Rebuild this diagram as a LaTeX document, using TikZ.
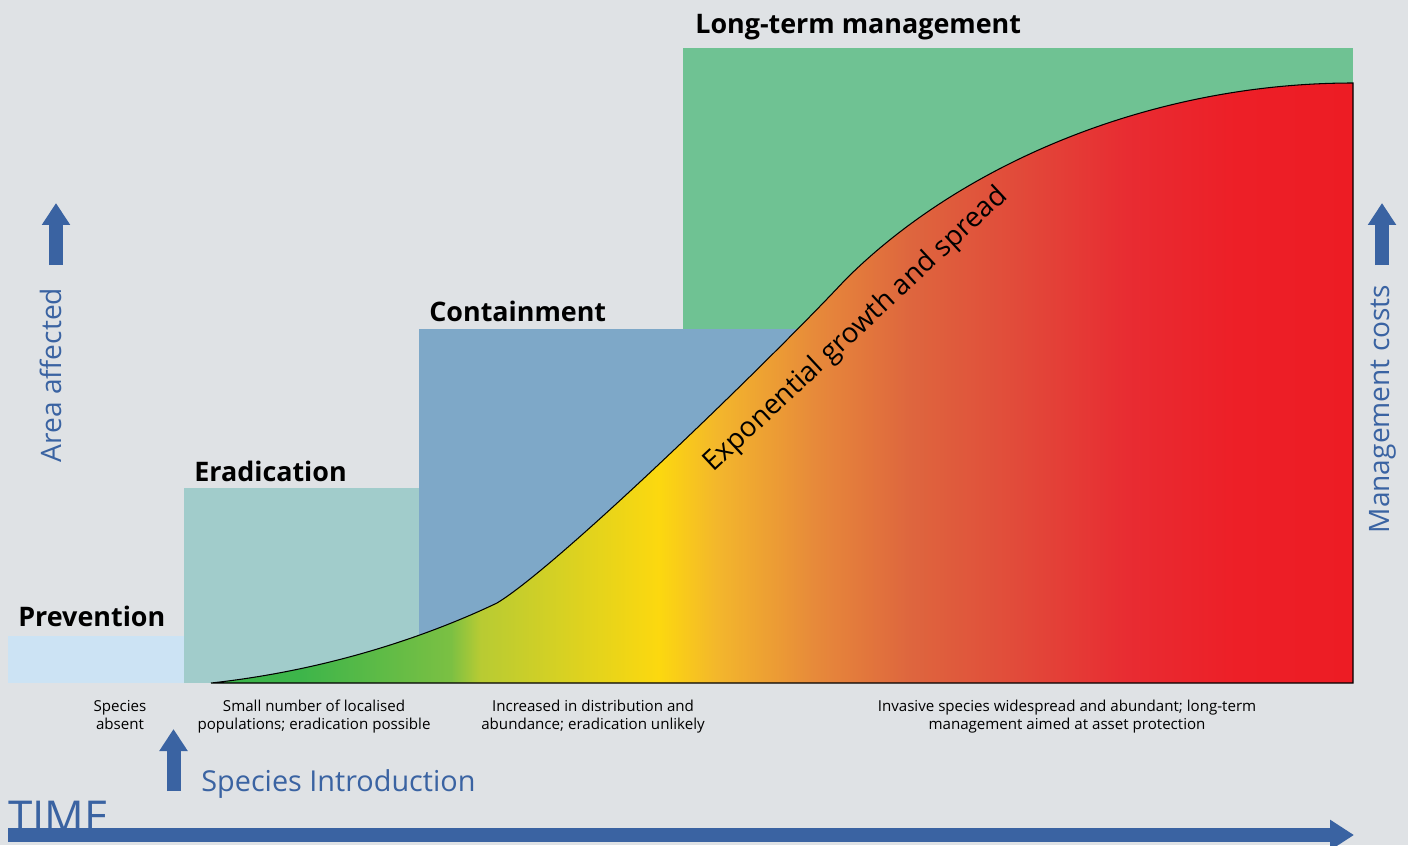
\documentclass[tikz,border=0pt]{standalone}
\usepackage{fontspec}
\setmainfont{Open Sans}
\usetikzlibrary{arrows.meta}

\definecolor{backdrop}{HTML}{DFE2E5}
\definecolor{prevfill}{HTML}{CCE3F4}
\definecolor{eradfill}{HTML}{A1CCCB}
\definecolor{contfill}{HTML}{7EA8C8}
\definecolor{longfill}{HTML}{6FC293}
\definecolor{axisblue}{HTML}{3A63A2}
\definecolor{g1}{HTML}{3AB54A}
\definecolor{g2}{HTML}{3DB54A}
\definecolor{g3}{HTML}{7BC043}
\definecolor{g4}{HTML}{B8CB33}
\definecolor{g5}{HTML}{FCD80F}
\definecolor{g6}{HTML}{F3B62C}
\definecolor{g7}{HTML}{E78A3A}
\definecolor{g8}{HTML}{DE663E}
\definecolor{g9}{HTML}{E14B3A}
\definecolor{g10}{HTML}{E82C32}
\definecolor{g11}{HTML}{ED1F27}
\definecolor{g12}{HTML}{ED1C24}

\pgfdeclarehorizontalshading{growth}{100bp}{color(0bp)=(g1); color(25bp)=(g1);
  color(28.9bp)=(g2); color(35.5bp)=(g3); color(36.8bp)=(g4); color(44.6bp)=(g5);
  color(47.2bp)=(g6); color(51.4bp)=(g7); color(55.6bp)=(g8); color(60.2bp)=(g9);
  color(65.1bp)=(g10); color(69.9bp)=(g11); color(75bp)=(g12); color(100bp)=(g12)}

\tikzset{
  stage/.style={anchor=base west, inner sep=0pt, text=black,
    font=\fontsize{15.3}{18}\selectfont\bfseries},
  phase/.style={anchor=north, inner sep=0pt, align=center, text=black,
    font=\fontsize{8.6}{10.2}\selectfont},
  axislabel/.style={inner sep=0pt, text=axisblue, font=\fontsize{16}{19}\selectfont},
  fatarrow/.style={draw=axisblue, line width=0.28cm,
    -{Triangle[length=0.44cm,width=0.54cm]}},
}

\begin{document}
\begin{tikzpicture}[x=0.02cm,y=-0.02cm]
            \useasboundingbox (0,0) rectangle (1408,845);
            \fill[backdrop] (0,0) rectangle (1408,845);

            % management bands
            \fill[longfill] (683,48) rectangle (1353,683);
            \fill[contfill] (419,329) rectangle (850,683);
            \fill[eradfill] (184,488) rectangle (419,683);
            \fill[prevfill] (8,636) rectangle (184,683);

            % invasion curve
            \coordinate (c0) at (211,683);
            \coordinate (c1) at (497,603);
            \coordinate (c2) at (845,280);
            \coordinate (c3) at (1353,83);
            \coordinate (c4) at (1353,683);
            \shadedraw[shading=growth, shading angle=0, draw=black, line width=0.6pt]
              (c0) .. controls (330,670) and (430,635) .. (c1)
              .. controls (560,565) and (780,350) .. (c2)
              .. controls (960,165) and (1150,83) .. (c3) -- (c4) -- cycle;
            \node[rotate=43, inner sep=0pt, font=\fontsize{15.8}{18}\selectfont] (spread) at (856,330) {Exponential growth and spread};

            \node[stage] (prevention) at (18,626) {Prevention};
            \node[stage] (eradication) at (194,481) {Eradication};
            \node[stage] (containment) at (429,321) {Containment};
            \node[stage] (longterm) at (695,33) {Long-term management};

            \node[phase] (absent) at (120,700) {Species\\absent};
            \node[phase] (localised) at (314,700) {Small number of localised\\populations; eradication possible};
            \node[phase] (increased) at (593,700) {Increased in distribution and\\abundance; eradication unlikely};
            \node[phase] (widespread) at (1067,700) {Invasive species widespread and abundant; long-term\\management aimed at asset protection};

            % axes
            \coordinate (areabase) at (56,265); \coordinate (areatip) at (56,203);
            \coordinate (costbase) at (1382,265); \coordinate (costtip) at (1382,203);
            \coordinate (introbase) at (173.5,791); \coordinate (introtip) at (173.5,729);
            \coordinate (timestart) at (8,835); \coordinate (timeend) at (1354,835);

            \node[axislabel, rotate=90] (area) at (51,375) {Area affected};
            \node[axislabel, rotate=90] (cost) at (1383,409) {Management costs};
            \node[axislabel, anchor=west, font=\fontsize{16.4}{19}\selectfont] (intro) at (201,784) {Species Introduction};
            \node[axislabel, anchor=base west, font=\fontsize{25}{29}\selectfont] (time) at (8,832) {TIME};

            \draw[fatarrow] (areabase) -- (areatip);
            \draw[fatarrow] (costbase) -- (costtip);
            \draw[fatarrow] (introbase) -- (introtip);
            \draw[fatarrow, -{Triangle[length=0.48cm,width=0.58cm]}] (timestart) -- (timeend);
        \end{tikzpicture}
\end{document}
